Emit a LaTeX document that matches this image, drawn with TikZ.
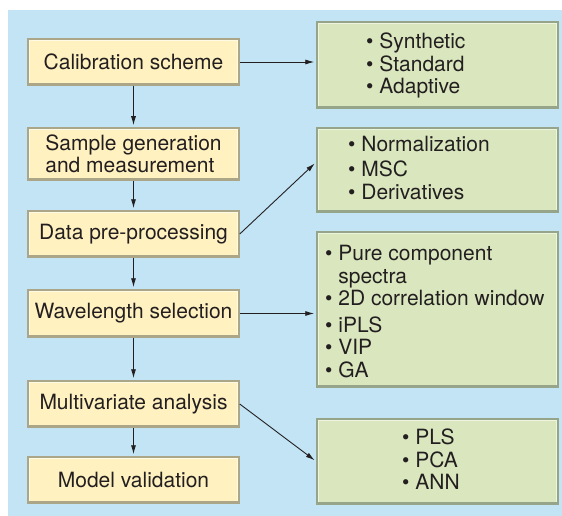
\documentclass[tikz,border=0pt]{standalone}
\usepackage{fontspec}
\setmainfont{TeX Gyre Heros}
\usetikzlibrary{arrows.meta}

\definecolor{bgblue}{RGB}{194,228,245}
\definecolor{yfill}{RGB}{255,241,192}
\definecolor{ylight}{RGB}{255,250,228}
\definecolor{yedge}{RGB}{172,166,136}
\definecolor{gfill}{RGB}{218,231,190}
\definecolor{glight}{RGB}{238,245,222}
\definecolor{gedge}{RGB}{150,164,138}
\definecolor{ink}{RGB}{35,31,32}

\begin{document}
\begin{tikzpicture}[x=1pt, y=-1pt, >={Latex[length=9pt,width=5pt]},
  font=\fontsize{21}{22.5}\selectfont, text=ink,
  bevel/.style 2 args={path picture={
    \draw[#1, line width=4pt] (path picture bounding box.south west)
      rectangle (path picture bounding box.north east);
    \draw[#2, line width=4pt] (path picture bounding box.south west)
      -- (path picture bounding box.south east);}},
  stage/.style={fill=yfill, draw=yedge, line width=1.5pt, minimum width=211pt,
                minimum height=46pt, inner sep=0pt, align=left,
                bevel={ylight}{yedge}},
  opts/.style={fill=gfill, draw=gedge, line width=1.5pt, minimum width=241pt,
               inner sep=0pt, bevel={glight}{gedge}},
  lst/.style={anchor=north west, inner sep=0pt, align=left},
  link/.style={->, draw=ink, line width=0.9pt, shorten >=2pt}]
  \useasboundingbox (0,0) rectangle (562,516);
  \fill[bgblue] (8,10) rectangle (562,516);

  % steps of the procedure
  \node[stage] (C) at (133.5,62) {Calibration scheme};
  \node[stage, minimum height=52pt] (S) at (133.5,154) {Sample generation\\and measurement};
  \node[stage] (D) at (133.5,234) {Data pre-processing};
  \node[stage, minimum height=47pt] (W) at (133.5,313.5) {Wavelength selection};
  \node[stage] (M) at (133.5,404) {Multivariate analysis};
  \node[stage] (V) at (133.5,480) {Model validation};

  % option boxes
  \node[opts, minimum height=86pt] (G1) at (437.5,65) {};
  \node[opts, minimum height=84pt] (G2) at (437.5,170) {};
  \node[opts, minimum height=155pt] (G3) at (437.5,309.5) {};
  \node[opts, minimum height=85pt] (G4) at (437.5,461.5) {};

  \node[lst] (L1) at (366,33) {\textbullet\ Synthetic\\\textbullet\ Standard\\\textbullet\ Adaptive};
  \node[lst] (L2) at (348,136) {\textbullet\ Normalization\\[2.5pt]\textbullet\ MSC\\\textbullet\ Derivatives};
  \node[lst] (L3) at (325,245) {\textbullet\ Pure component\\\phantom{\textbullet\ }spectra\\
    \textbullet\ 2D correlation window\\[4pt]\textbullet\ iPLS\\\textbullet\ VIP\\\textbullet\ GA};
  \node[lst] (L4) at (402,429) {\textbullet\ PLS\\\textbullet\ PCA\\\textbullet\ ANN};

  \foreach \a/\b in {C/S,S/D,D/W,W/M,M/V}
    \draw[link] (\a) -- (\b);

  \draw[link] (C.east) -- (C.east -| G1.west);
  \draw[link] (D.east) -- ([yshift=8pt]G2.west);
  \draw[link] (W.east) -- (W.east -| G3.west);
  \draw[link] (M.east) -- (G4.west);
\end{tikzpicture}
\end{document}
